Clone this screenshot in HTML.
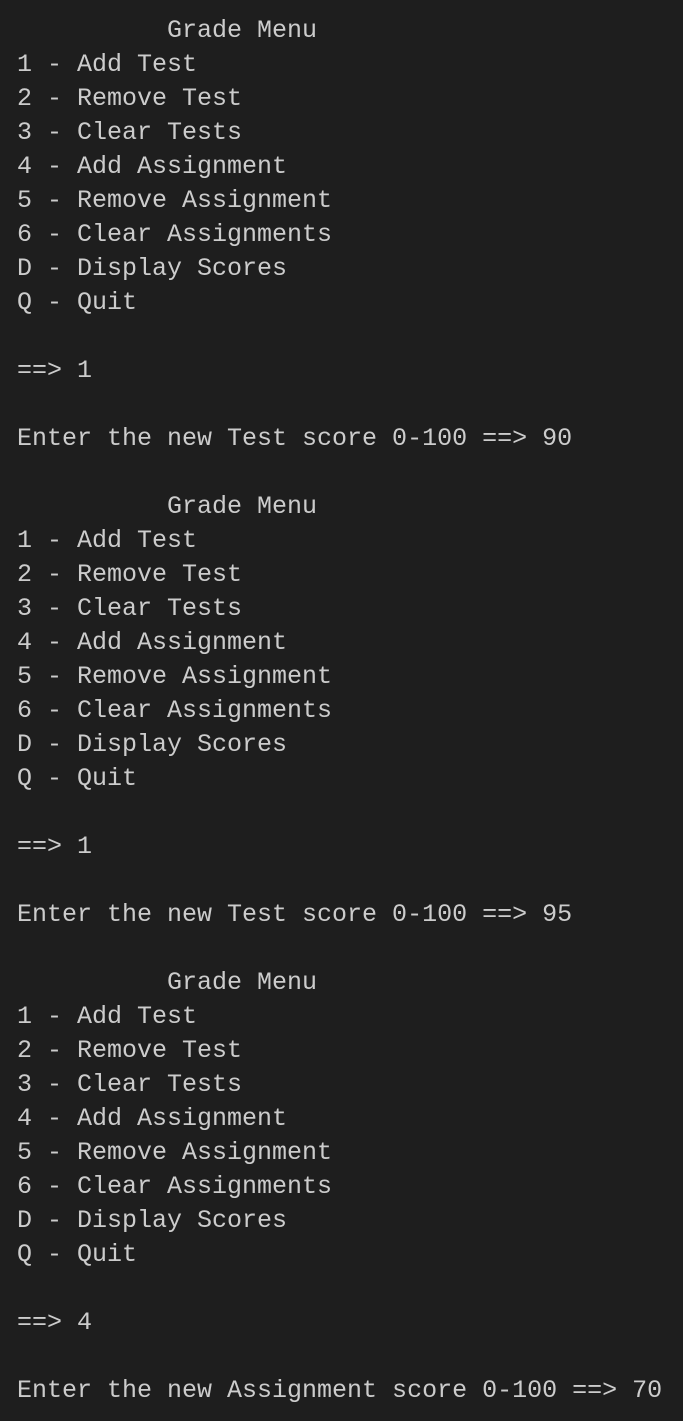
<!DOCTYPE html>
<html><head><meta charset="utf-8"><style>
html,body{margin:0;padding:0;background:#1e1e1e;width:683px;height:1421px;overflow:hidden}
pre{margin:0;padding:14px 0 0 17px;font-family:"Liberation Mono","DejaVu Sans Mono",monospace;font-size:25px;line-height:34px;color:#cccccc}
</style></head><body><pre>          Grade Menu
1 - Add Test
2 - Remove Test
3 - Clear Tests
4 - Add Assignment
5 - Remove Assignment
6 - Clear Assignments
D - Display Scores
Q - Quit

==&gt; 1

Enter the new Test score 0-100 ==&gt; 90

          Grade Menu
1 - Add Test
2 - Remove Test
3 - Clear Tests
4 - Add Assignment
5 - Remove Assignment
6 - Clear Assignments
D - Display Scores
Q - Quit

==&gt; 1

Enter the new Test score 0-100 ==&gt; 95

          Grade Menu
1 - Add Test
2 - Remove Test
3 - Clear Tests
4 - Add Assignment
5 - Remove Assignment
6 - Clear Assignments
D - Display Scores
Q - Quit

==&gt; 4

Enter the new Assignment score 0-100 ==&gt; 70</pre></body></html>
